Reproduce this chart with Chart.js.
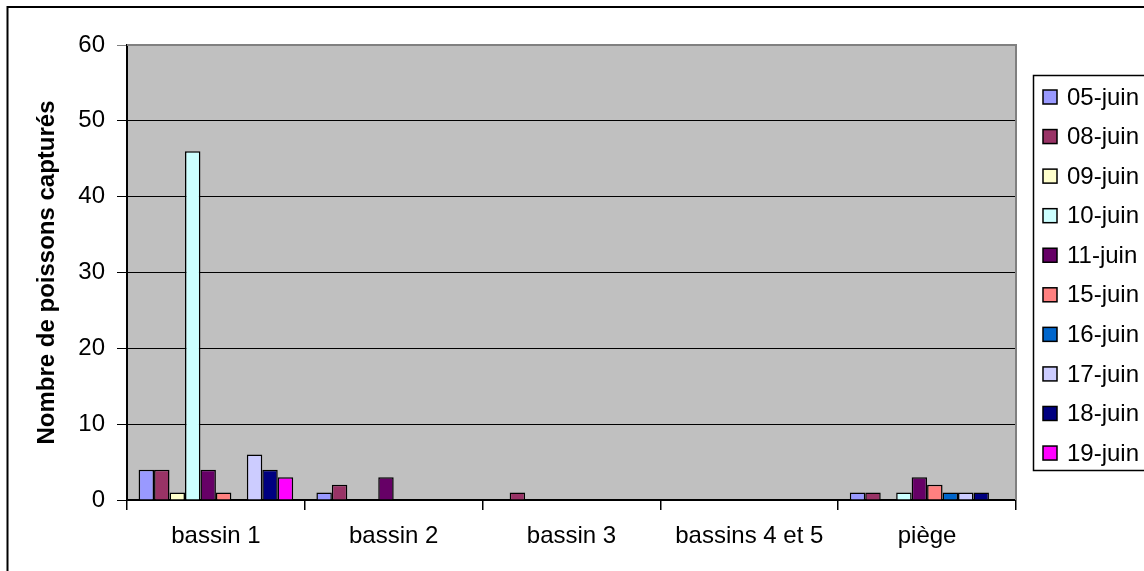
<!DOCTYPE html>
<html>
<head>
<meta charset="utf-8">
<script src="https://cdn.jsdelivr.net/npm/chart.js@4/dist/chart.umd.min.js"></script>
<style>
  html, body { margin: 0; padding: 0; background: #fff; }
  canvas { display: block; }
</style>
</head>
<body>
<canvas id="chart" width="1144" height="571"></canvas>
<script>
// categories on the x axis
const categories = ["bassin 1", "bassin 2", "bassin 3", "bassins 4 et 5", "piège"];

// one array per capture date, values in category order
const juin05 = [4, 1, 0, 0, 1];
const juin08 = [4, 2, 1, 0, 1];
const juin09 = [1, 0, 0, 0, 0];
const juin10 = [46, 0, 0, 0, 1];
const juin11 = [4, 3, 0, 0, 3];
const juin15 = [1, 0, 0, 0, 2];
const juin16 = [0, 0, 0, 0, 1];
const juin17 = [6, 0, 0, 0, 1];
const juin18 = [4, 0, 0, 0, 1];
const juin19 = [3, 0, 0, 0, 0];

const seriesLabels = ["05-juin", "08-juin", "09-juin", "10-juin", "11-juin",
                      "15-juin", "16-juin", "17-juin", "18-juin", "19-juin"];
const seriesValues = [juin05, juin08, juin09, juin10, juin11,
                      juin15, juin16, juin17, juin18, juin19];

const Y_MIN = 0;
const Y_MAX = 60;
const Y_STEP = 10;
const Y_TITLE = "Nombre de poissons capturés";

(() => {
  const FONT = "'Liberation Sans', Arial, sans-serif";
  const FONT_SIZE = 24;
  const colors = ["#9999FF", "#993366", "#FFFFCC", "#CCFFFF", "#660066",
                  "#FF8080", "#0066CC", "#CCCCFF", "#000080", "#FF00FF"];

  // white page, outer frame, grey plot background
  const frame = {
    id: "frame",
    beforeDraw(chart) {
      const { ctx, chartArea: a } = chart;
      ctx.save();
      ctx.fillStyle = "#fff";
      ctx.fillRect(0, 0, chart.width, chart.height);
      ctx.strokeStyle = "#000";
      ctx.lineWidth = 2;
      ctx.beginPath();
      ctx.moveTo(7.5, chart.height + 5);
      ctx.lineTo(7.5, 7);
      ctx.lineTo(chart.width + 5, 7);
      ctx.stroke();
      ctx.fillStyle = "#C0C0C0";
      ctx.fillRect(a.left, a.top, a.right - a.left, a.bottom - a.top);
      ctx.restore();
    },
    afterDraw(chart) {
      const { ctx, chartArea: a } = chart;
      ctx.save();
      ctx.strokeStyle = "#808080";
      ctx.lineWidth = 2;
      ctx.beginPath();
      ctx.moveTo(a.left, a.top);
      ctx.lineTo(a.right, a.top);
      ctx.lineTo(a.right, a.bottom);
      ctx.stroke();

      // legend box, built from the datasets
      const boxX = 1033.5, boxY = 75.5;
      ctx.strokeStyle = "#000";
      ctx.lineWidth = 1.5;
      ctx.strokeRect(boxX, boxY, 200, 395);
      ctx.font = `${FONT_SIZE}px ${FONT}`;
      ctx.textBaseline = "middle";
      chart.data.datasets.forEach((ds, i) => {
        const y = 97 + i * 39.56;
        ctx.fillStyle = ds.backgroundColor;
        ctx.fillRect(1043, y - 7, 14, 14);
        ctx.lineWidth = 1.5;
        ctx.strokeRect(1043, y - 7, 14, 14);
        ctx.fillStyle = "#000";
        ctx.fillText(ds.label, 1067, y + 1);
      });
      ctx.restore();
    },
  };

  new Chart(document.getElementById("chart"), {
    type: "bar",
    data: {
      labels: categories,
      datasets: seriesValues.map((values, i) => ({
        label: seriesLabels[i],
        data: values,
        backgroundColor: colors[i],
        borderColor: "#000",
        borderWidth: 1.5,
        categoryPercentage: 10 / 11.5,
        barPercentage: 1,
      })),
    },
    options: {
      responsive: false,
      animation: false,
      devicePixelRatio: 1,
      layout: { padding: { left: 33, top: 45, right: 128, bottom: 0 } },
      plugins: {
        legend: { display: false },
        tooltip: { enabled: false },
      },
      scales: {
        x: {
          offset: true,
          grid: {
            offset: true,
            drawOnChartArea: false,
            drawTicks: true,
            tickLength: 10,
            color: "#000",
            lineWidth: 1.5,
          },
          border: { color: "#000", width: 2 },
          ticks: {
            color: "#000",
            font: { family: FONT, size: FONT_SIZE },
            padding: 12,
            maxRotation: 0,
          },
          afterFit: (scale) => { scale.height = 71; },
        },
        y: {
          min: Y_MIN,
          max: Y_MAX,
          grid: {
            color: (c) => (c.tick && c.tick.value === Y_MAX ? "#808080" : "#000"),
            lineWidth: 1,
            tickLength: 10,
          },
          border: { color: "#000", width: 2 },
          ticks: {
            stepSize: Y_STEP,
            color: "#000",
            font: { family: FONT, size: FONT_SIZE },
            padding: 12,
          },
          title: {
            display: true,
            text: Y_TITLE,
            color: "#000",
            font: { family: FONT, size: FONT_SIZE, weight: "bold" },
            padding: 0,
          },
          afterFit: (scale) => { scale.width = 94; },
        },
      },
    },
    plugins: [frame],
  });
})();
</script>
</body>
</html>
